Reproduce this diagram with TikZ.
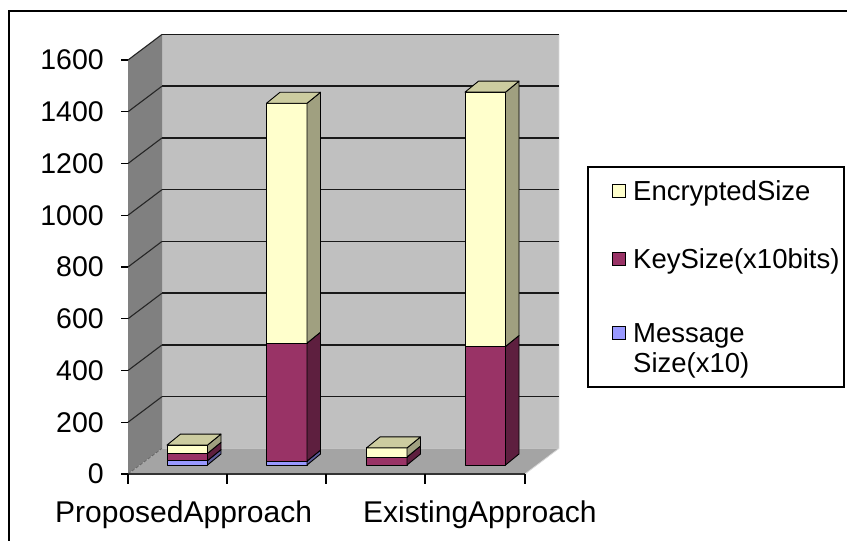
\documentclass[tikz,border=0pt]{standalone}
\usepackage{fontspec}
\setmainfont{Liberation Sans}
\definecolor{wallback}{HTML}{C0C0C0}
\definecolor{wallside}{HTML}{808080}
\definecolor{floorcol}{HTML}{A4A4A4}
\definecolor{encF}{HTML}{FFFFCC}
\definecolor{encT}{HTML}{CCCCA0}
\definecolor{encS}{HTML}{A0A080}
\definecolor{keyF}{HTML}{993366}
\definecolor{keyT}{HTML}{7A2952}
\definecolor{keyS}{HTML}{5E1F3F}
\definecolor{msgF}{HTML}{9999FF}
\definecolor{msgT}{HTML}{7A7ACC}
\definecolor{msgS}{HTML}{5C5C99}
% value -> pixel scale
\pgfmathsetmacro{\kscale}{0.25875}
\tikzset{
  barface/.style={draw=black, line width=0.9pt, line join=round},
  gridback/.style={draw=black!90, line width=1.6pt},
  gridside/.style={draw=black!85, line width=1.1pt},
  tickmark/.style={draw=black, line width=1.2pt},
  ylabel/.style={anchor=east, inner sep=0pt, font=\fontsize{28.5}{30}\selectfont},
  xlabel/.style={anchor=base west, inner sep=0pt, font=\fontsize{30}{32}\selectfont},
  legtext/.style={anchor=base west, inner sep=0pt, font=\fontsize{27.5}{30}\selectfont},
  legkey/.style={draw=black, line width=1pt, minimum size=13pt, inner sep=0pt},
}
% one segment of a stacked 3-D bar: #1 left x, #2 bottom y, #3 top y, #4 series
\newcommand{\barpiece}[4]{%
  \filldraw[barface, fill=#4F] (#1,#2) rectangle (#1+40.5,#3);
  \filldraw[barface, fill=#4S] (#1+40.5,#2) -- ++(13.5,-11) -- (#1+54,#3-11) -- (#1+40.5,#3) -- cycle;
}
\newcommand{\bartop}[3]{%
  \filldraw[barface, fill=#3T] (#1,#2) -- ++(13.5,-11) -- ++(40.5,0) -- ++(-13.5,11) -- cycle;
}
% stacked bar: #1 left x, #2 message, #3 key, #4 encrypted
\newcommand{\stackbar}[4]{%
  \pgfmathsetmacro{\ya}{465-#2*\kscale}%
  \pgfmathsetmacro{\yb}{\ya-#3*\kscale}%
  \pgfmathsetmacro{\yc}{\yb-#4*\kscale}%
  \ifdim #2pt>0pt \barpiece{#1}{465}{\ya}{msg}\fi
  \barpiece{#1}{\ya}{\yb}{key}
  \barpiece{#1}{\yb}{\yc}{enc}
  \bartop{#1}{\yc}{enc}
}
\begin{document}
\begin{tikzpicture}[x=1pt, y=-1pt]
\useasboundingbox (0,0) rectangle (847,541);
\clip (0,0) rectangle (847,541);
\fill[white] (0,0) rectangle (847,541);
% outer frame
\draw[black, line width=2.4pt] (9,11) rectangle (870,570);

% walls and floor
\fill[wallback] (162,34.4) rectangle (559,448.4);
\fill[wallside] (128,60) -- (162,34.4) -- (162,448.4) -- (128,474) -- cycle;
\fill[floorcol] (128,474) -- (525,474) -- (559,448.4) -- (162,448.4) -- cycle;
\draw[white!85!black, line width=0.8pt] (559,34.4) -- (559,448.4) -- (525,474);
\draw[black!60, line width=0.8pt, dash pattern=on 3pt off 2pt] (128,474) -- (162,448.4);

% gridlines, side-wall lines and value ticks
\foreach \v/\lab in {0/0,200/200,400/400,600/600,800/800,1000/1000,1200/1200,1400/1400,1600/1600}{
  \pgfmathsetmacro{\yf}{474-\v*\kscale}
  \pgfmathsetmacro{\yk}{448.4-\v*\kscale}
  \ifnum\v>0
    \draw[gridback] (162,\yk) -- (559,\yk);
    \draw[gridside] (128,\yf) -- (162,\yk);
  \fi
  \draw[tickmark] (121,\yf) -- (128,\yf);
  \node[ylabel] (y\v) at (104,\yf) {\lab};
}

% category axis
\draw[black!80, line width=1.4pt] (128,474) -- (525,474);
\foreach \xt in {128,227,326,425,525}{
  \draw[tickmark] (\xt,474) -- (\xt,484);
}
\node[xlabel] (cat1) at (55,522) {ProposedApproach};
\node[xlabel] (cat2) at (363,522) {ExistingApproach};

% stacked bars
\stackbar{167}{17}{28}{32}
\stackbar{266.5}{15}{456}{927}
\stackbar{366.5}{0}{31}{35}
\stackbar{465}{0}{458}{983}

% legend
\draw[black, line width=1.8pt, fill=white] (588,167) rectangle (844,387);
\node[legkey, fill=encF] (k1) at (619,191) {};
\node[legkey, fill=keyF] (k2) at (619,259) {};
\node[legkey, fill=msgF] (k3) at (619,333) {};
\node[legtext] (t1) at (633,200) {EncryptedSize};
\node[legtext] (t2) at (633,268) {KeySize(x10bits)};
\node[legtext] (t3) at (633,342) {Message};
\node[legtext] (t4) at (633,372) {Size(x10)};
\end{tikzpicture}
\end{document}
